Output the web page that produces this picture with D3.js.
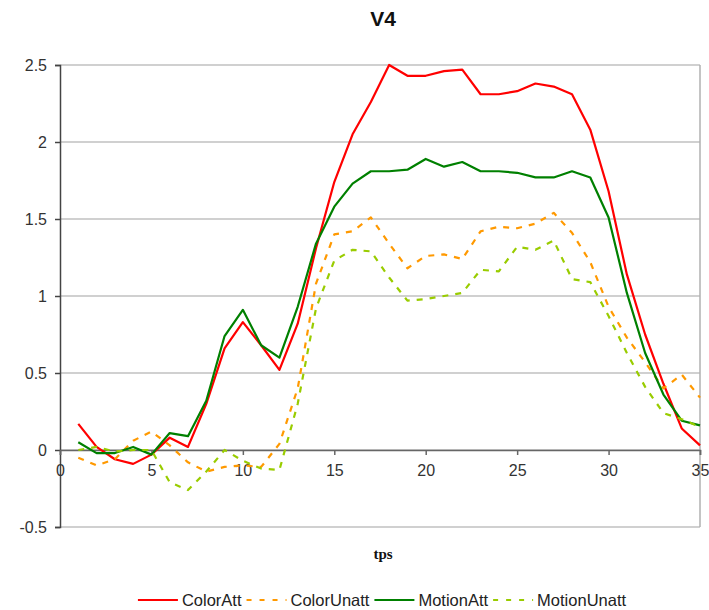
<!DOCTYPE html>
<html>
<head>
<meta charset="utf-8">
<script src="https://cdn.jsdelivr.net/npm/d3@7"></script>
<style>
  html, body { margin: 0; padding: 0; background: #fff; }
  svg { display: block; }
  text { font-family: "Liberation Sans", Arial, sans-serif; }
</style>
</head>
<body>
<svg id="chart" width="709" height="610"></svg>
<script>
// time points (tps) 1..35
const tps = d3.range(1, 36);

const colorAtt = [0.17, 0.02, -0.06, -0.09, -0.03, 0.08, 0.02, 0.30, 0.66, 0.83,
  0.68, 0.52, 0.82, 1.31, 1.74, 2.05, 2.26, 2.50, 2.43, 2.43,
  2.46, 2.47, 2.31, 2.31, 2.33, 2.38, 2.36, 2.31, 2.08, 1.68,
  1.14, 0.75, 0.43, 0.14, 0.03];

const colorUnatt = [-0.05, -0.10, -0.06, 0.06, 0.12, 0.03, -0.08, -0.14, -0.11, -0.10,
  -0.11, 0.04, 0.40, 1.08, 1.40, 1.42, 1.51, 1.34, 1.18, 1.26,
  1.27, 1.24, 1.42, 1.45, 1.44, 1.47, 1.54, 1.41, 1.22, 0.93,
  0.73, 0.57, 0.40, 0.49, 0.34];

const motionAtt = [0.05, -0.02, -0.02, 0.02, -0.03, 0.11, 0.09, 0.32, 0.74, 0.91,
  0.68, 0.60, 0.93, 1.34, 1.58, 1.73, 1.81, 1.81, 1.82, 1.89,
  1.84, 1.87, 1.81, 1.81, 1.80, 1.77, 1.77, 1.81, 1.77, 1.51,
  1.02, 0.63, 0.36, 0.19, 0.16];

const motionUnatt = [0.00, 0.02, -0.01, 0.00, 0.00, -0.21, -0.26, -0.14, 0.00, -0.07,
  -0.12, -0.13, 0.30, 0.92, 1.23, 1.30, 1.29, 1.12, 0.97, 0.98,
  1.00, 1.02, 1.17, 1.16, 1.32, 1.30, 1.36, 1.11, 1.09, 0.87,
  0.63, 0.41, 0.24, 0.20, 0.15];

const seriesNames = ["ColorAtt", "ColorUnatt", "MotionAtt", "MotionUnatt"];
const seriesColors = ["#ff0000", "#ff9900", "#008000", "#99cc00"];
const seriesDashed = [false, true, false, true];
const seriesValues = [colorAtt, colorUnatt, motionAtt, motionUnatt];

const xTicks = [0, 5, 10, 15, 20, 25, 30, 35];
const yTicks = [-0.5, 0, 0.5, 1, 1.5, 2, 2.5];

const title = "V4";
const xTitle = "tps";

// layout
const W = 709, H = 610;
const margin = { top: 65, right: 9, bottom: 83, left: 60 };
const iw = W - margin.left - margin.right;
const ih = H - margin.top - margin.bottom;

const svg = d3.select("#chart");
const g = svg.append("g").attr("transform", `translate(${margin.left},${margin.top})`);

const x = d3.scaleLinear().domain([0, 35]).range([0, iw]);
const y = d3.scaleLinear().domain([-0.5, 2.5]).range([ih, 0]);

// horizontal gridlines
g.append("g")
  .selectAll("line")
  .data(yTicks)
  .join("line")
  .attr("x1", 0).attr("x2", iw)
  .attr("y1", d => y(d)).attr("y2", d => y(d))
  .attr("stroke", "#c0c0c0")
  .attr("stroke-width", 1.5);

// right border of the plot area
g.append("line")
  .attr("x1", iw).attr("x2", iw)
  .attr("y1", 0).attr("y2", ih)
  .attr("stroke", "#b0b0b0")
  .attr("stroke-width", 1.5);

// y axis
const yAxis = g.append("g")
  .call(d3.axisLeft(y).tickValues(yTicks).tickSize(5).tickPadding(8)
    .tickFormat(d => String(d)));
yAxis.select(".domain").attr("stroke", "#444").attr("stroke-width", 1.5);
yAxis.selectAll(".tick line").attr("stroke", "#444").attr("stroke-width", 1.5);
yAxis.selectAll(".tick text")
  .attr("fill", "#333")
  .style("font-size", "16px")
  .style("font-family", "'Liberation Sans', Arial, sans-serif");

// x axis crossing at zero
const xAxis = g.append("g")
  .attr("transform", `translate(0,${y(0)})`)
  .call(d3.axisBottom(x).tickValues(xTicks).tickSize(5).tickPadding(10)
    .tickFormat(d => String(d)));
xAxis.select(".domain").attr("stroke", "#666").attr("stroke-width", 1.5);
xAxis.selectAll(".tick line").attr("stroke", "#666").attr("stroke-width", 1.5);
xAxis.selectAll(".tick text")
  .attr("fill", "#333")
  .style("font-size", "16px")
  .style("font-family", "'Liberation Sans', Arial, sans-serif");

// series lines
const line = d3.line()
  .x((d, i) => x(tps[i]))
  .y(d => y(d));

seriesValues.forEach((vals, k) => {
  g.append("path")
    .datum(vals)
    .attr("d", line)
    .attr("fill", "none")
    .attr("stroke", seriesColors[k])
    .attr("stroke-width", 2.2)
    .attr("stroke-linejoin", "round")
    .attr("stroke-dasharray", seriesDashed[k] ? "6,7" : null);
});

// title
svg.append("text")
  .attr("x", 383).attr("y", 26)
  .attr("text-anchor", "middle")
  .style("font-size", "21px")
  .style("font-weight", "bold")
  .attr("fill", "#111")
  .text(title);

// x axis title
svg.append("text")
  .attr("x", 383).attr("y", 559)
  .attr("text-anchor", "middle")
  .style("font-family", "'Liberation Serif', 'Times New Roman', serif")
  .style("font-size", "15px")
  .style("font-weight", "bold")
  .attr("fill", "#111")
  .text(xTitle);

// legend
const legend = svg.append("g");
const sampleW = 40, gapAfterSample = 4, gapAfterText = 5;
let cursor = 0;
seriesNames.forEach((name, k) => {
  const it = legend.append("g");
  it.append("line")
    .attr("x1", 0).attr("x2", sampleW)
    .attr("y1", 0).attr("y2", 0)
    .attr("stroke", seriesColors[k])
    .attr("stroke-width", 2.2)
    .attr("stroke-dasharray", seriesDashed[k] ? "5,8" : null);
  const t = it.append("text")
    .attr("x", sampleW + gapAfterSample)
    .attr("y", 6)
    .style("font-size", "16.5px")
    .attr("fill", "#222")
    .text(name);
  const w = sampleW + gapAfterSample + t.node().getComputedTextLength();
  it.attr("transform", `translate(${cursor},0)`);
  cursor += w + gapAfterText;
});
const totalW = cursor - gapAfterText;
legend.attr("transform", `translate(${382 - totalW / 2},600)`);
</script>
</body>
</html>
